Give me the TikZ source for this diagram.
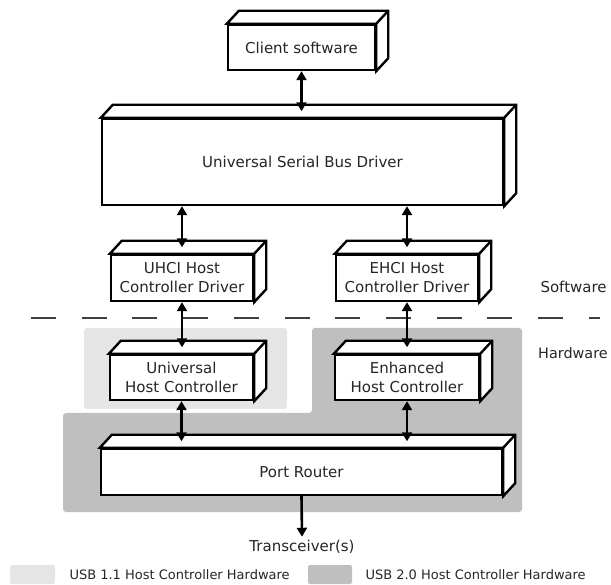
\documentclass[tikz,border=0pt]{standalone}
\usepackage{fontspec}
\setmainfont{DejaVu Sans}
\usepackage{tikz}
\usetikzlibrary{
  calc,        % Offsets for the box depth
  arrows.meta  % Triangle tips
}

\tikzset{
  slab/.style={draw, line width=2.4pt, fill=white, minimum width=#1,
    align=center, text=black!85, font=\fontsize{15}{19}\selectfont},
  slabface/.style={draw, line width=2.4pt, fill=white, line join=miter},
  link/.style={line width=2.6pt, {Triangle[length=9pt,width=10pt]}-{Triangle[length=9pt,width=10pt]}},
  down/.style={line width=2.6pt, -{Triangle[length=9pt,width=10pt]}},
  label/.style={text=black!85, font=\fontsize{15}{19}\selectfont},
  legend/.style={text=black!85, font=\fontsize{13}{16}\selectfont, anchor=west}
}

\begin{document}
\begin{tikzpicture}[x=1pt, y=-1pt]
        \useasboundingbox (0,0) rectangle (611,585);

        % USB 1.1 hardware area
        \fill[black!10, rounded corners=3pt] (84,328) rectangle (287,409);

        % USB 2.0 hardware area
        \fill[black!25, rounded corners=3pt] (63,413) -- (312,413) -- (312,328)
            -- (522,328) -- (522,512) -- (63,512) -- cycle;

        % Software / hardware border
        \draw[black!75, line width=1.6pt, dash pattern=on 25pt off 25.7pt] (31,318) -- (600,318);
        \node[label, anchor=west] (sw) at (537,287) {Software};
        \node[label, anchor=west, font=\fontsize{14.4}{18}\selectfont, inner sep=0pt] (hw) at (538,353) {Hardware};

        % Boxes (front faces)
        \node[slab=147pt, minimum height=45pt] (client) at (301.5,47.5) {Client software};
        \node[slab=401pt, minimum height=86pt] (usbd) at (302.5,162) {Universal Serial Bus Driver};
        \node[slab=142pt, minimum height=46pt] (uhcd) at (182,278) {UHCI Host\\Controller Driver};
        \node[slab=142pt, minimum height=46pt] (ehcd) at (407,278) {EHCI Host\\Controller Driver};
        \node[slab=143pt, minimum height=45pt] (uhc) at (181.5,377.5) {Universal\\Host Controller};
        \node[slab=144pt, minimum height=45pt] (ehc) at (407,377.5) {Enhanced\\Host Controller};
        \node[slab=401pt, minimum height=46pt] (router) at (301.5,472) {Port Router};

        % Top and side faces
        \foreach \b in {client,usbd,uhcd,ehcd,uhc,ehc,router} {
            \draw[slabface] (\b.north west) -- ++(12,-13) -- ($(\b.north east)+(12,-13)$)
                -- ($(\b.south east)+(12,-13)$) -- (\b.south east) -- (\b.north east) -- cycle;
            \draw[slabface] (\b.north east) -- ++(12,-13);
            \coordinate (\b-top) at ($(\b.north)+(6,-6.5)$);
        }

        % Transceivers
        \node[label] (trx) at (302,547) {Transceiver(s)};

        % Connections
        \draw[link] (client.south) -- (client.south |- usbd-top);
        \draw[link] (uhcd.north |- usbd.south) -- (uhcd.north |- uhcd-top);
        \draw[link] (ehcd.north |- usbd.south) -- (ehcd.north |- ehcd-top);
        \draw[link] (uhcd.south) -- (uhcd.south |- uhc-top);
        \draw[link] (ehcd.south) -- (ehcd.south |- ehc-top);
        \draw[link] (uhc.south) -- (uhc.south |- router-top);
        \draw[link] (ehc.south) -- (ehc.south |- router-top);
        \draw[down] (router.south) -- (trx.north);

        % Legend
        \fill[black!10, rounded corners=2pt] (10,565) rectangle (55,584);
        \node[legend] (l11) at (66,575) {USB 1.1 Host Controller Hardware};
        \fill[black!25, rounded corners=2pt] (308,565) rectangle (352,584);
        \node[legend] (l20) at (362,575) {USB 2.0 Host Controller Hardware};
\end{tikzpicture}
\end{document}
